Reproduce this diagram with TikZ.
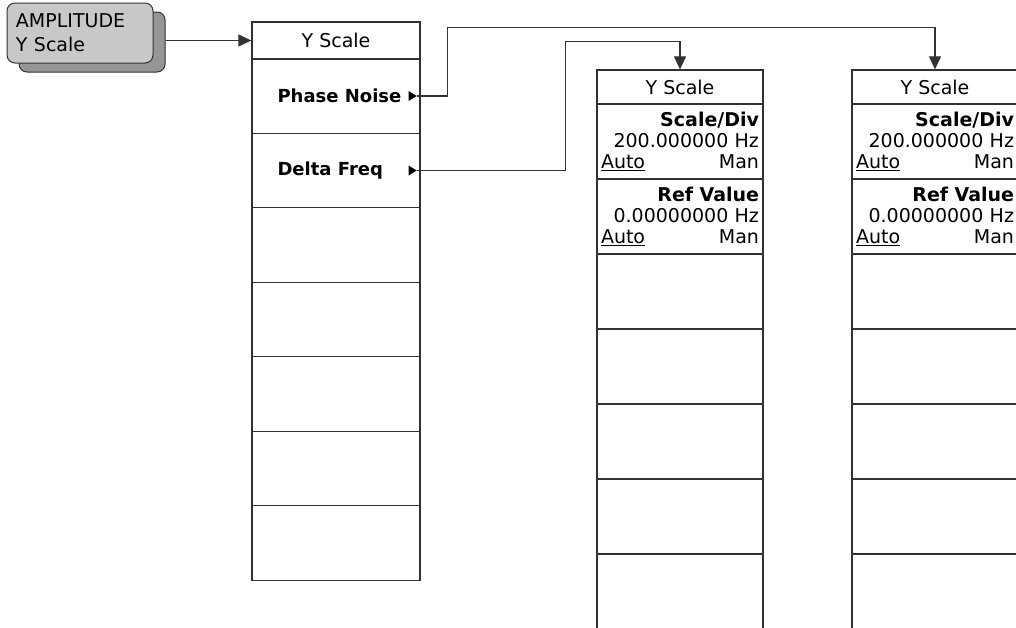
\documentclass[tikz,border=0pt]{standalone}
\usepackage{fontspec}
\setmainfont{DejaVu Sans}
\usetikzlibrary{arrows.meta}
\usetikzlibrary{shadows}
\usetikzlibrary{calc}
\definecolor{keyline}{RGB}{50,50,50}
\definecolor{btnfill}{RGB}{200,200,200}
\definecolor{btnshade}{RGB}{150,150,150}
\tikzset{cell/.style={draw=keyline,line width=1.3pt,rectangle,inner sep=0pt},
	mainkey/.style={cell,minimum width=168,minimum height=74.5},
	subkey/.style={cell,minimum width=166,minimum height=75,
		text width=158,align=left,keyfont},
	subhead/.style={cell,minimum width=166,minimum height=34,keyfont},
	keyfont/.style={font=\fontsize{19}{21}\selectfont},
	keylabel/.style={font=\fontsize{18}{21}\selectfont\bfseries,anchor=west,inner sep=0pt},
	btn/.style={draw=keyline,fill=btnfill,line width=1pt,rounded corners=8pt,
		minimum width=146,minimum height=60,text width=128,inner xsep=9,
		align=left,font=\fontsize{19}{24}\selectfont,
		general shadow={shadow xshift=12pt,shadow yshift=-9pt,fill=btnshade,draw=keyline}},
	conn/.style={draw=black!80,line width=1.2pt},
	>={Triangle[length=13pt,width=12pt]}}
\newcommand{\softtri}[1]{\fill[black] ([xshift=-12,yshift=5]#1.east) -- ([xshift=-4]#1.east) -- ([xshift=-12,yshift=-5]#1.east) -- cycle;}

\begin{document}
\begin{tikzpicture}[x=1pt,y=-1pt]
	\useasboundingbox (0,0) rectangle (1016,627);
	% front panel key
	\node[btn] (amp) at (80,33) {AMPLITUDE\\Y Scale};
	% Y Scale menu
	\begin{scope}
		\node[cell,minimum width=168,minimum height=37,keyfont] (ys) at (336,40.5) {Y Scale};
		\node[mainkey] (pn) at (336,96) {};
		\node[mainkey] (df) at (336,170.5) {};
		\foreach \i in {1,...,5}
			\node[mainkey] (m\i) at (336,{170.5+74.5*\i}) {};
		\node[keylabel] (pnlbl) at ([xshift=26]pn.west) {Phase Noise};
		\node[keylabel] (dflbl) at ([xshift=26]df.west) {Delta Freq};
		\softtri{pn}
		\softtri{df}
		\coordinate (pntip) at ([xshift=-4]pn.east);
		\coordinate (dftip) at ([xshift=-4]df.east);
	\end{scope}
	% Delta Freq menu
	\begin{scope}
		\node[subhead] (t2) at (680,87) {Y Scale};
		\node[subkey] (sd2) at (680,141.5) {\hfill\textbf{Scale/Div}\\\hfill 200.000000 Hz\\\underline{Auto}\hfill Man};
		\node[subkey] (rv2) at (680,216.5) {\hfill\textbf{Ref Value}\\\hfill 0.00000000 Hz\\\underline{Auto}\hfill Man};
		\foreach \i in {1,...,5}
			\node[subkey] (b2\i) at (680,{216.5+75*\i}) {};
	\end{scope}
	% Phase Noise menu
	\begin{scope}
		\node[subhead] (t3) at (935,87) {Y Scale};
		\node[subkey] (sd3) at (935,141.5) {\hfill\textbf{Scale/Div}\\\hfill 200.000000 Hz\\\underline{Auto}\hfill Man};
		\node[subkey] (rv3) at (935,216.5) {\hfill\textbf{Ref Value}\\\hfill 0.00000000 Hz\\\underline{Auto}\hfill Man};
		\foreach \i in {1,...,5}
			\node[subkey] (b3\i) at (935,{216.5+75*\i}) {};
	\end{scope}
	% connectors
	\coordinate (amptail) at ($(amp.east |- ys.west)+(12,0)$);
	\draw[conn,->] (amptail) -- (ys.west);
	\draw[conn,->] (pntip) -- ++(31,0) |- ($(t3.north)+(0,-42)$) -- (t3.north);
	\draw[conn,->] (dftip) -- ++(149,0) |- ($(t2.north)+(0,-28)$) -- (t2.north);
\end{tikzpicture}
\end{document}
